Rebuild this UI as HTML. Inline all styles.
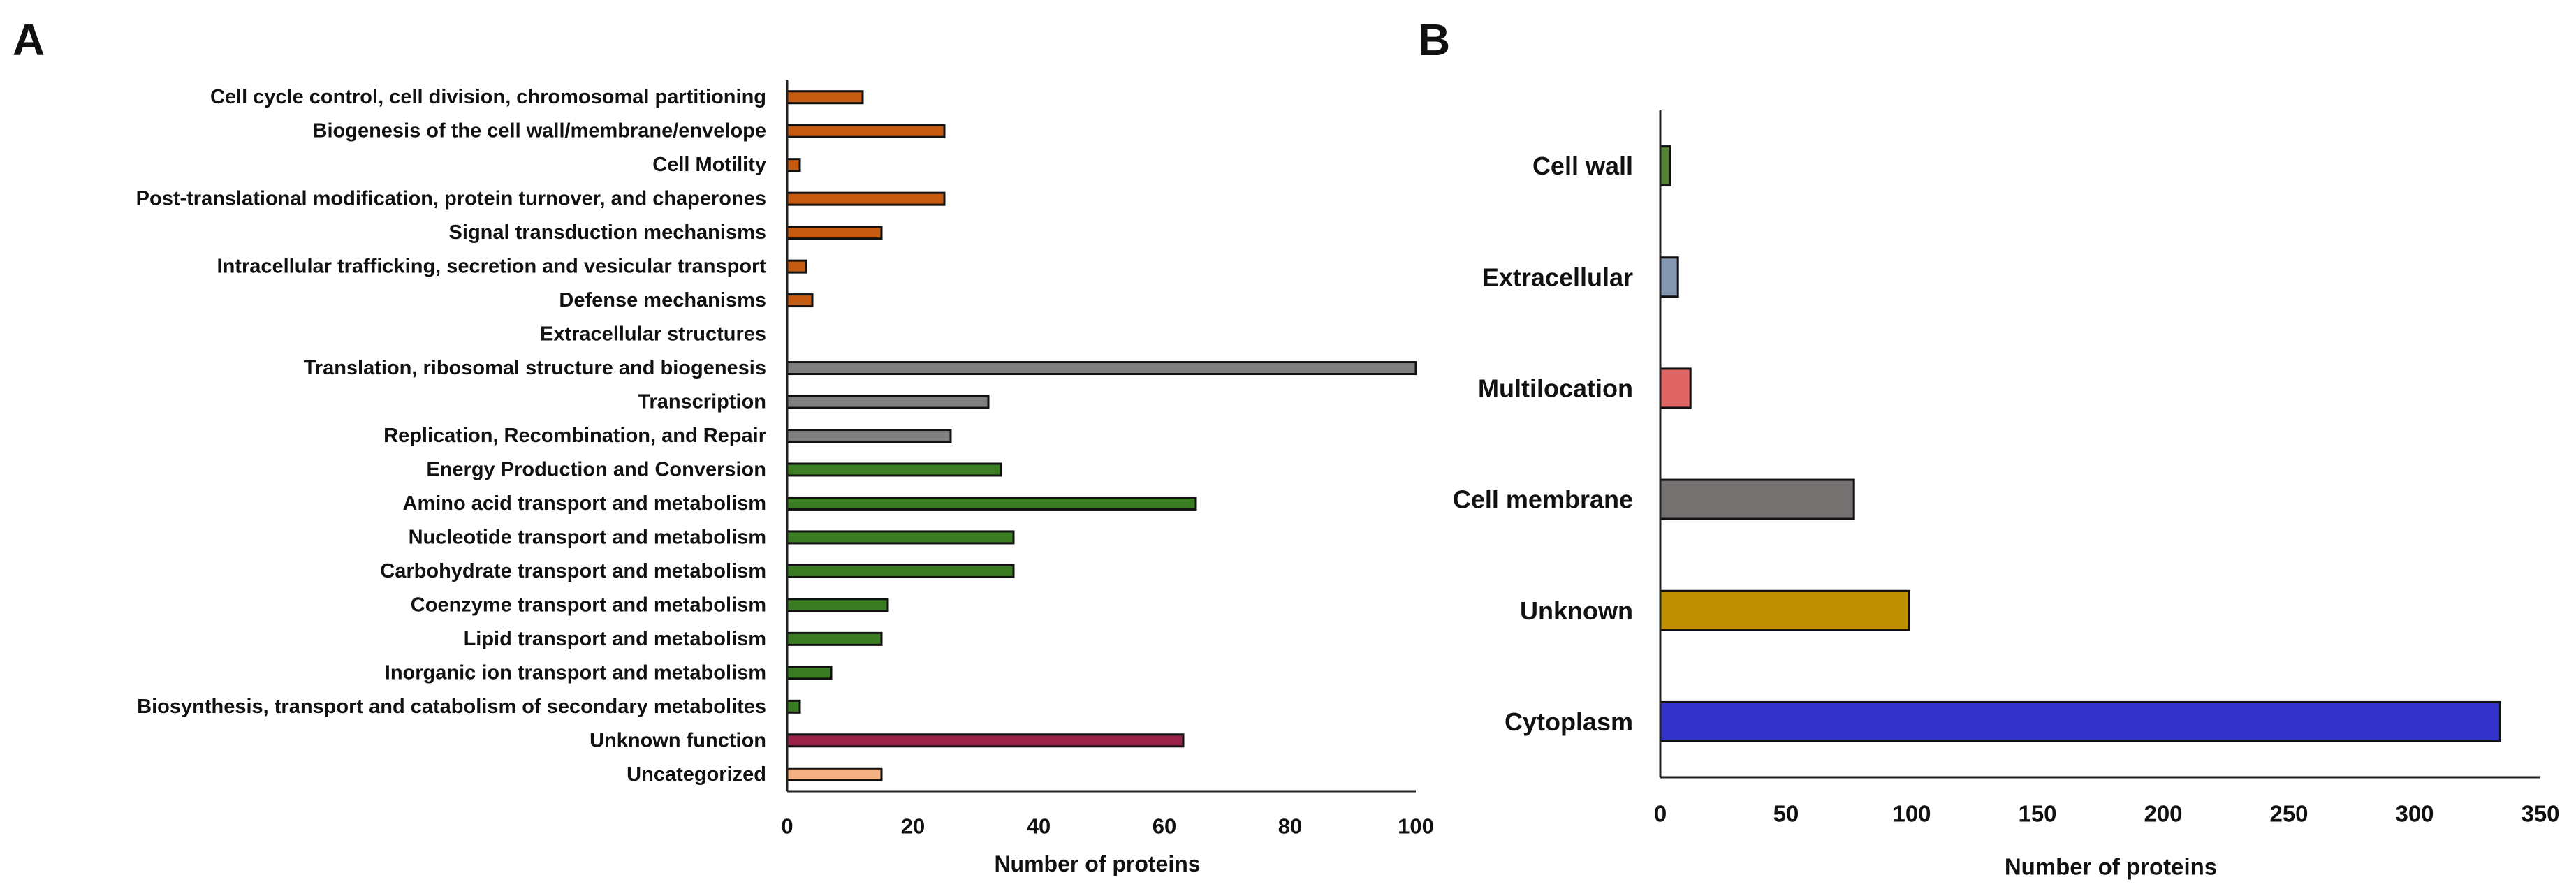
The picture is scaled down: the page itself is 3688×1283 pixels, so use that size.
<!DOCTYPE html>
<html><head><meta charset="utf-8"><style>
html,body{margin:0;padding:0;background:#fff}
svg{display:block}
text{font-family:"Liberation Sans",sans-serif;font-weight:bold;fill:#111}
</style></head><body>
<svg id="fig" width="3688" height="1283" viewBox="0 0 3688 1283" xmlns="http://www.w3.org/2000/svg">
<text x="18" y="79" font-size="64">A</text>
<text x="2030" y="79" font-size="64">B</text>
<g id="chartA"></g>
<g id="chartB"></g>
</svg>
<script>
const catsA = ["Cell cycle control, cell division, chromosomal partitioning","Biogenesis of the cell wall/membrane/envelope","Cell Motility","Post-translational modification, protein turnover, and chaperones","Signal transduction mechanisms","Intracellular trafficking, secretion and vesicular transport","Defense mechanisms","Extracellular structures","Translation, ribosomal structure and biogenesis","Transcription","Replication, Recombination, and Repair","Energy Production and Conversion","Amino acid transport and metabolism","Nucleotide transport and metabolism","Carbohydrate transport and metabolism","Coenzyme transport and metabolism","Lipid transport and metabolism","Inorganic ion transport and metabolism","Biosynthesis, transport and catabolism of secondary metabolites","Unknown function","Uncategorized"];
const valsA = [12,25,2,25,15,3,4,0,100,32,26,34,65,36,36,16,15,7,2,63,15];
const colorsA = ["#C55A11","#C55A11","#C55A11","#C55A11","#C55A11","#C55A11","#C55A11","#C55A11","#7F7F7F","#7F7F7F","#7F7F7F","#3A7D22","#3A7D22","#3A7D22","#3A7D22","#3A7D22","#3A7D22","#3A7D22","#3A7D22","#9B2248","#F4B183"];
const ticksA = [0,20,40,60,80,100];
const catsB = ["Cell wall","Extracellular","Multilocation","Cell membrane","Unknown","Cytoplasm"];
const valsB = [4,7,12,77,99,334];
const colorsB = ["#548235","#8497B0","#E06666","#767171","#BF9000","#3333CC"];
const ticksB = [0,50,100,150,200,250,300,350];

const NS="http://www.w3.org/2000/svg";
function mk(parent,tag,attrs,txt){const e=document.createElementNS(NS,tag);for(const k in attrs)e.setAttribute(k,attrs[k]);if(txt!==undefined)e.textContent=txt;parent.appendChild(e);return e;}

function drawChart(g,cfg,cats,vals,cols,ticks,prefix){
  const x=v=>cfg.x0+(v-cfg.min)/(cfg.max-cfg.min)*(cfg.x1-cfg.x0);
  const band=(cfg.yb-cfg.yt)/cats.length;
  const y=i=>cfg.yt+band*(i+0.5);
  cats.forEach((c,i)=>{
    const t=mk(g,"text",{x:cfg.labelX,y:y(i),"font-size":cfg.labelFs,"text-anchor":"end","dominant-baseline":"central"},c);
    
    
    if(vals[i]>0){
      const r=mk(g,"rect",{x:x(0),y:y(i)-cfg.bh/2,width:x(vals[i])-x(0),height:cfg.bh,fill:cols[i],stroke:"#111","stroke-width":cfg.sw});
      
      
    }
  });
  const ya=mk(g,"line",{x1:cfg.x0,y1:cfg.yt,x2:cfg.x0,y2:cfg.yb,stroke:"#222","stroke-width":3});
  
  
  const xa=mk(g,"line",{x1:cfg.x0,y1:cfg.yb,x2:cfg.x1,y2:cfg.yb,stroke:"#222","stroke-width":3});
  
  
  ticks.forEach(t=>{
    const e=mk(g,"text",{x:x(t),y:cfg.tickY,"font-size":cfg.tickFs,"text-anchor":"middle","dominant-baseline":"central"},String(t));
    
    
  });
  const ti=mk(g,"text",{x:cfg.titleX,y:cfg.titleY,"font-size":cfg.titleFs,"text-anchor":"middle","dominant-baseline":"central"},"Number of proteins");
  
  
}
drawChart(document.getElementById("chartA"),{x0:1127,x1:2027,min:0,max:100,yt:115,yb:1133,bh:17,sw:3,labelX:1097,labelFs:29,tickY:1183,tickFs:31,titleX:1571,titleY:1237,titleFs:32},catsA,valsA,colorsA,ticksA,"a");
drawChart(document.getElementById("chartB"),{x0:2377,x1:3637,min:0,max:350,yt:158,yb:1113,bh:56,sw:3,labelX:2338,labelFs:36,tickY:1165,tickFs:33,titleX:3022,titleY:1241,titleFs:33},catsB,valsB,colorsB,ticksB,"b");
</script>
</body></html>
